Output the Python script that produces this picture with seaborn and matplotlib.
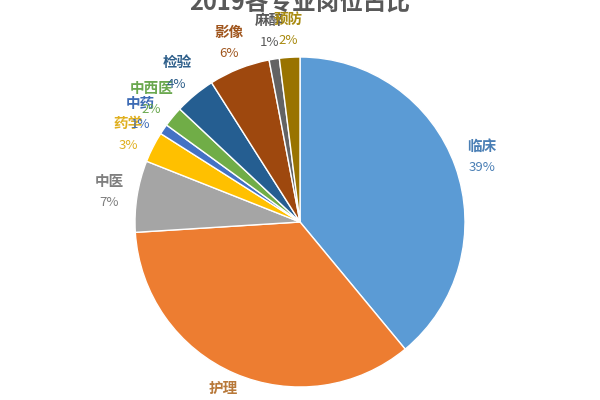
import numpy as np
import matplotlib
matplotlib.use("Agg")
import matplotlib.pyplot as plt
import seaborn as sns

categories = ["临床", "护理", "中医", "药学", "中药", "中西医", "检验", "影像", "麻醉", "预防"]
shares = [39, 35, 7, 3, 1, 2, 4, 6, 1, 2]
pct_labels = ["39%", "35%", "7%", "3%", "1%", "2%", "4%", "6%", "1%", "2%"]
title = "2019各专业岗位占比"

slice_colors = ["#5B9BD5", "#ED7D31", "#A5A5A5", "#FFC000", "#4472C4",
                "#70AD47", "#255E91", "#9E480E", "#636363", "#997300"]
text_colors = ["#4A7FB5", "#B8793A", "#7F7F7F", "#E0B020", "#3D6BB5",
               "#6AA84F", "#2D5E8A", "#A0561E", "#595959", "#A88A10"]

sns.set_theme(style="white")
plt.rcParams['font.family'] = ['Noto Sans CJK SC', 'DejaVu Sans']

fig = plt.figure(figsize=(6, 4), dpi=100)
ax = fig.add_axes([0.225, 0.0325, 0.55, 0.825])
wedges, _ = ax.pie(shares, colors=slice_colors, startangle=90, counterclock=False,
                   wedgeprops=dict(edgecolor="white", linewidth=1.0))
ax.set_xlim(-1, 1)
ax.set_ylim(-1, 1)
ax.axis("off")

r = 1.17
for w, name, pct, tc in zip(wedges, categories, pct_labels, text_colors):
    mid = np.deg2rad((w.theta1 + w.theta2) / 2)
    x, y = r * np.cos(mid), r * np.sin(mid)
    ax.text(x, y + 0.066, name, ha="center", va="center", fontsize=10.5,
            fontweight="bold", color=tc, clip_on=False)
    ax.text(x, y - 0.066, pct, ha="center", va="center", fontsize=9.5,
            color=tc, clip_on=False)

fig.text(0.5, 0.993, title, ha="center", va="center", fontsize=17,
         fontweight="bold", color="#595959")

fig.savefig("out.png", dpi=100)
